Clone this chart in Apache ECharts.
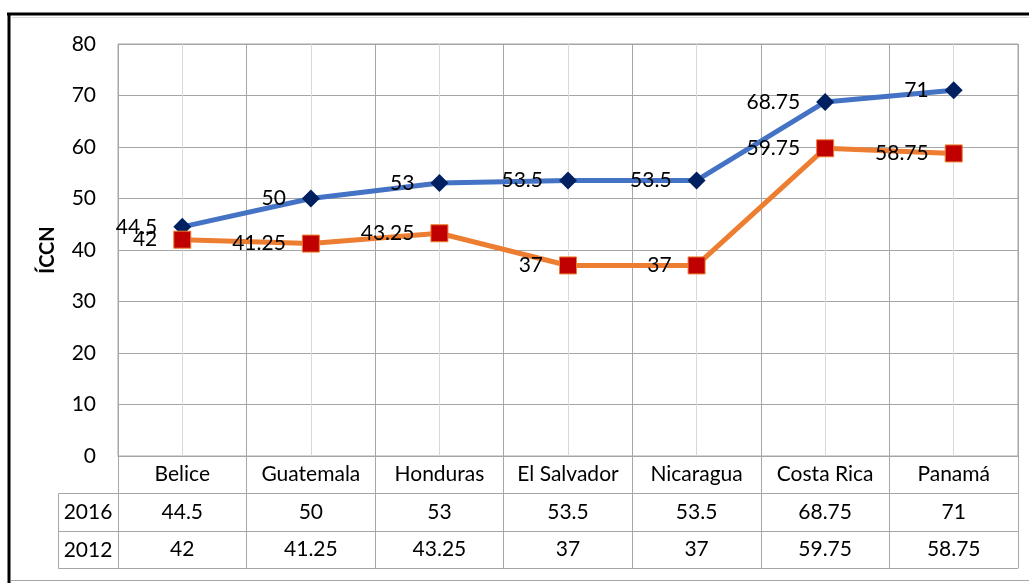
<!DOCTYPE html>
<html>
<head>
<meta charset="utf-8">
<script src="https://cdn.jsdelivr.net/npm/echarts@6/dist/echarts.min.js"></script>
<style>
  html, body { margin: 0; padding: 0; background: #fff; }
  #chart { width: 1029px; height: 583px; }
</style>
</head>
<body>
<div id="chart"></div>
<script>
// datos de la tabla
var countries = ['Belice', 'Guatemala', 'Honduras', 'El Salvador', 'Nicaragua', 'Costa Rica', 'Panamá'];
var values2016 = [44.5, 50, 53, 53.5, 53.5, 68.75, 71];
var values2012 = [42, 41.25, 43.25, 37, 37, 59.75, 58.75];
var seriesNames = ['2016', '2012'];
var yMin = 0, yMax = 80, yStep = 10;

var FONT = 'Lato';
var gridGray = '#A6A6A6';
var lightGray = '#D9D9D9';

var chart = echarts.init(document.getElementById('chart'));

function tableAxis(offset, values, margin) {
  return {
    type: 'category',
    data: countries,
    position: 'bottom',
    offset: offset,
    axisLine: { show: true, lineStyle: { color: gridGray, width: 1 } },
    axisTick: { show: false },
    splitLine: { show: false },
    axisLabel: {
      show: !!values,
      interval: 0,
      margin: margin,
      verticalAlign: 'middle',
      fontFamily: FONT,
      fontSize: 21,
      color: '#000',
      formatter: function (v, i) { return values ? String(values[i]) : ''; }
    }
  };
}

var labelStyle = {
  show: true,
  position: 'left',
  distance: 16,
  fontFamily: FONT,
  fontSize: 21,
  color: '#000'
};

chart.setOption({
  animation: false,
  backgroundColor: '#fff',
  grid: {
    left: 118,
    right: 11,
    top: 44,
    bottom: 127,
    show: true,
    borderColor: gridGray,
    borderWidth: 1,
    backgroundColor: '#fff'
  },
  xAxis: [
    {
      type: 'category',
      data: countries,
      boundaryGap: true,
      axisLine: { show: true, lineStyle: { color: gridGray } },
      axisTick: { show: true, interval: 0, length: 112, lineStyle: { color: gridGray } },
      splitLine: { show: true, interval: 0, lineStyle: { color: gridGray } },
      axisLabel: {
        interval: 0,
        margin: 18,
        verticalAlign: 'middle',
        fontFamily: FONT,
        fontSize: 21,
        color: '#000'
      }
    },
    tableAxis(37, values2016, 19),
    tableAxis(75, values2012, 18),
    tableAxis(112, null, 0)
  ],
  yAxis: {
    type: 'value',
    min: yMin,
    max: yMax,
    interval: yStep,
    name: 'ÍCCN',
    nameLocation: 'middle',
    nameGap: 60,
    nameTextStyle: { fontFamily: FONT, fontSize: 20, fontWeight: 'bold', color: '#000' },
    axisLine: { show: false },
    axisTick: { show: false },
    splitLine: { lineStyle: { color: gridGray } },
    axisLabel: { margin: 22, fontFamily: FONT, fontSize: 21, color: '#000' }
  },
  series: [
    {
      // lineas claras al centro de cada categoria
      type: 'line',
      data: [],
      z: 1,
      silent: true,
      markLine: {
        z: 1,
        silent: true,
        symbol: 'none',
        label: { show: false },
        lineStyle: { color: lightGray, width: 1, type: 'solid' },
        data: countries.map(function (c) { return { xAxis: c }; })
      }
    },
    {
      name: seriesNames[0],
      type: 'line',
      z: 3,
      data: values2016,
      lineStyle: { color: '#4472C4', width: 5 },
      symbol: 'diamond',
      symbolSize: 18,
      itemStyle: { color: '#002060' },
      label: labelStyle
    },
    {
      name: seriesNames[1],
      type: 'line',
      z: 3,
      data: values2012,
      lineStyle: { color: '#ED7D31', width: 5 },
      symbol: 'rect',
      symbolSize: 17,
      itemStyle: { color: '#C00000', borderColor: '#ED7D31', borderWidth: 1 },
      label: labelStyle
    }
  ],
  graphic: [
    { type: 'line', shape: { x1: 7, y1: 14, x2: 1029, y2: 14 }, style: { stroke: '#000', lineWidth: 3 } },
    { type: 'line', shape: { x1: 9, y1: 13, x2: 9, y2: 583 }, style: { stroke: '#000', lineWidth: 3 } },
    { type: 'line', shape: { x1: 12, y1: 17.5, x2: 1029, y2: 17.5 }, style: { stroke: lightGray, lineWidth: 1 } },
    { type: 'line', shape: { x1: 11, y1: 580.5, x2: 1029, y2: 580.5 }, style: { stroke: gridGray, lineWidth: 1 } },
    // columna de encabezado de la tabla
    { type: 'polyline', shape: { points: [[118, 493.5], [58.5, 493.5], [58.5, 568.5], [118, 568.5]] }, style: { stroke: gridGray, fill: null, lineWidth: 1 } },
    { type: 'line', shape: { x1: 58.5, y1: 531.5, x2: 118, y2: 531.5 }, style: { stroke: gridGray, lineWidth: 1 } },
    { type: 'text', x: 88, y: 512, style: { text: seriesNames[0], font: '21px Lato', fill: '#000', textAlign: 'center', textVerticalAlign: 'middle' } },
    { type: 'text', x: 88, y: 550, style: { text: seriesNames[1], font: '21px Lato', fill: '#000', textAlign: 'center', textVerticalAlign: 'middle' } }
  ]
});
</script>
</body>
</html>
